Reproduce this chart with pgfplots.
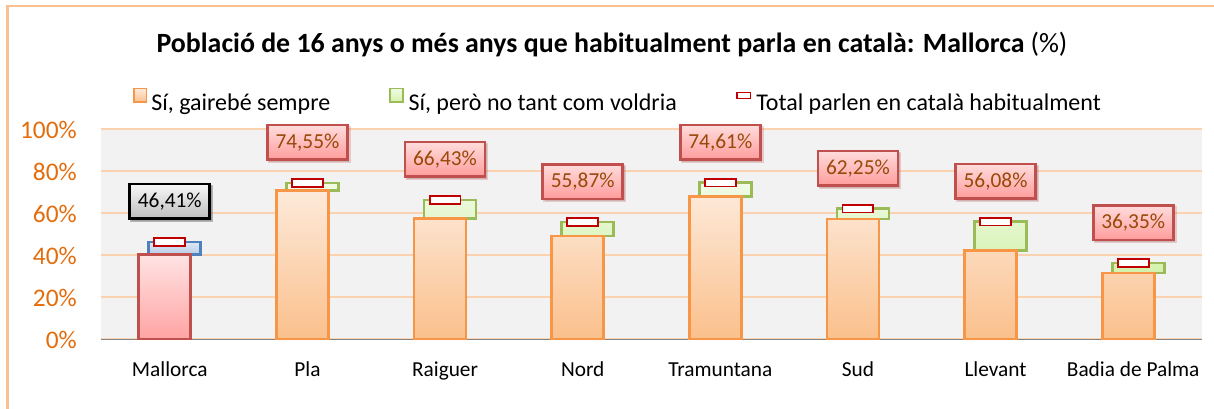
\documentclass[border=0pt]{standalone}
\usepackage{fontspec}
\setmainfont{Carlito}
\usepackage{pgfplots}
\pgfplotsset{compat=1.18}
\usetikzlibrary{shadows}
\definecolor{plotbg}{HTML}{F2F2F2}
\definecolor{gridor}{HTML}{FAD2B0}
\definecolor{axisgray}{HTML}{868686}
\definecolor{tickor}{HTML}{E46C0A}
\definecolor{obord}{HTML}{F79646}
\definecolor{otop}{HTML}{FDEADA}
\definecolor{obot}{HTML}{FBC08C}
\definecolor{gbord}{HTML}{9BBB59}
\definecolor{gtop}{HTML}{F0FBE6}
\definecolor{gbot}{HTML}{D3F2AC}
\definecolor{rbord}{HTML}{C0504D}
\definecolor{rtop}{HTML}{FFE3E3}
\definecolor{rbot}{HTML}{FFA3A3}
\definecolor{bbord}{HTML}{4F81BD}
\definecolor{btop}{HTML}{DEE8F5}
\definecolor{bbot}{HTML}{B8CCE6}
\definecolor{ltop}{HTML}{FFDCDC}
\definecolor{lbot}{HTML}{FF9C9C}
\definecolor{ltext}{HTML}{984807}
\definecolor{gltop}{HTML}{F7F7F7}
\definecolor{glbot}{HTML}{BDBDBD}
\definecolor{markred}{HTML}{C00000}
\definecolor{framecol}{HTML}{FAC090}
\pgfdeclareplotmark{totbox}{\pgfpathrectangle{\pgfqpoint{-11.6pt}{-2.8pt}}{\pgfqpoint{23.2pt}{5.6pt}}\pgfusepathqfillstroke}
\pgfplotsset{
  common/.style={
    at={(0,0)}, anchor=south west,
    scale only axis, width=825.75pt, height=157.5pt,
    xmin=-0.5, xmax=7.5, ymin=0, ymax=100,
    enlargelimits=false,
  },
}
\begin{document}
\begin{tikzpicture}
\useasboundingbox (-75.75pt,-52.125pt) rectangle (834.75pt,254.625pt);
% main axis: background, grid, ticks, legend, stacked bars for the comarques
\begin{axis}[common,
  ybar stacked, bar width=39pt,
  axis background/.style={fill=plotbg},
  axis lines*=left,
  x axis line style={draw=axisgray, line width=1.2pt},
  y axis line style={draw=none},
  major tick length=0pt,
  ymajorgrids, grid style={draw=gridor, line width=1.5pt},
  ytick={0,20,...,100},
  /pgf/number format/assume math mode=true,
  yticklabel={\pgfmathprintnumber{\tick}\%},
  yticklabel style={font=\fontsize{19pt}{21pt}\selectfont, text=tickor, inner sep=0pt, xshift=-18pt},
  xtick={0,...,7},
  xticklabels={Mallorca, Pla, Raiguer, Nord, Tramuntana, Sud, Llevant, Badia de Palma},
  xticklabel style={font=\fontsize{16pt}{18pt}\selectfont, anchor=base, inner sep=0pt, yshift=-27.4pt},
  every axis title shift=0pt,
  title={\textbf{Població de 16 anys o més anys que habitualment parla en català: Mallorca} (\%)},
  title style={at={(axis description cs:0.4641,1.3643)}, anchor=base, inner sep=0pt, font=\fontsize{20.9pt}{24pt}\selectfont},
  legend columns=3,
  legend cell align=left,
  legend style={at={(axis description cs:0.02906,1.140)}, anchor=west, draw=none, fill=none,
    inner sep=0pt, column sep=0pt, nodes={inner sep=0pt},
    font=\fontsize{18pt}{20pt}\selectfont},
]
\addplot[draw=obord, line width=2pt, top color=otop, bottom color=obot, bar shift=-3.75pt,
  legend image code/.code={\draw[line width=1.2pt, draw=obord, top color=otop, bottom color=obot] (0.6pt,0.6pt) rectangle (10pt,10.75pt);}]
  coordinates {(1,71.1) (2,57.6) (3,49.3) (4,68.2) (5,57.3) (6,42.5) (7,31.7)};
\addlegendentry{\makebox[181.5pt][l]{\hspace{3pt}Sí, gairebé sempre}}
\addplot[draw=gbord, line width=2pt, top color=gtop, bottom color=gbot, bar shift=3.75pt,
  legend image code/.code={\draw[line width=1.2pt, draw=gbord, top color=gtop, bottom color=gbot] (0.6pt,0.6pt) rectangle (10pt,10.75pt);}]
  coordinates {(1,3.45) (2,8.83) (3,6.57) (4,6.41) (5,4.95) (6,13.58) (7,4.65)};
\addlegendentry{\makebox[249.5pt][l]{\hspace{3.75pt}Sí, però no tant com voldria}}
\addlegendimage{legend image code/.code={\draw[line width=1.2pt, draw=markred, fill=white] (0.6pt,3.5pt) rectangle (10.75pt,7.75pt);}}
\addlegendentry{\hspace{3.75pt}Total parlen en català habitualment}
\end{axis}
% Mallorca bars in their own colours
\begin{axis}[common, hide axis, ybar stacked, bar width=39pt]
\addplot[draw=rbord, line width=2pt, top color=rtop, bottom color=rbot, bar shift=-3.75pt]
  coordinates {(0,40.4)};
\addplot[draw=bbord, line width=2pt, top color=btop, bottom color=bbot, bar shift=3.75pt]
  coordinates {(0,6.01)};
\end{axis}
% totals: markers and labelled boxes
\begin{axis}[common, hide axis, clip=false]
\addplot[only marks, mark=totbox, mark options={draw=markred, fill=white, line width=1.4pt},
  point meta=explicit symbolic, nodes near coords={\pgfplotspointmeta\%},
  every node near coord/.append style={anchor=center, yshift=30.4pt, font=\fontsize{16pt}{18pt}\selectfont,
    text=black, draw=black, line width=2pt, top color=gltop, bottom color=glbot,
    minimum width=60pt, minimum height=26pt, inner sep=2pt,
    drop shadow={opacity=0.25, shadow xshift=1.5pt, shadow yshift=-1.5pt}}]
  table[meta=l] {
x y l
0 46.41 46,41
};
\addplot[only marks, mark=totbox, mark options={draw=markred, fill=white, line width=1.4pt},
  point meta=explicit symbolic, nodes near coords={\pgfplotspointmeta\%},
  every node near coord/.append style={anchor=center, yshift=30.4pt, font=\fontsize{16pt}{18pt}\selectfont,
    text=ltext, draw=rbord, line width=2pt, top color=ltop, bottom color=lbot,
    minimum width=60pt, minimum height=26pt, inner sep=2pt,
    drop shadow={opacity=0.25, shadow xshift=1.5pt, shadow yshift=-1.5pt}}]
  table[meta=l] {
x y l
1 74.55 74,55
2 66.43 66,43
3 55.87 55,87
4 74.61 74,61
5 62.25 62,25
6 56.08 56,08
7 36.35 36,35
};
\end{axis}
\draw[framecol, line width=1.9pt] (-70.125pt,-52.125pt) -- (-70.125pt,250.125pt) -- (834.75pt,250.125pt);
\end{tikzpicture}
\end{document}
